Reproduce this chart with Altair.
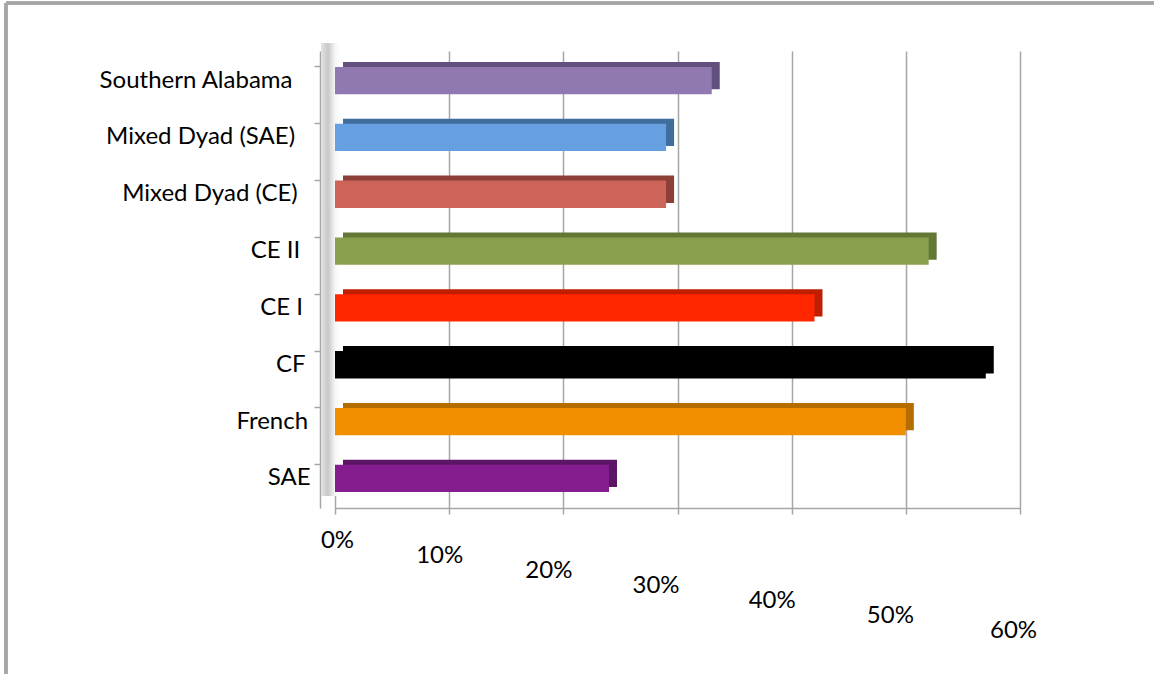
import altair as alt
import pandas as pd

# Share of responses per speaker group
groups = [
    "Southern Alabama",
    "Mixed Dyad (SAE)",
    "Mixed Dyad (CE)",
    "CE II",
    "CE I",
    "CF",
    "French",
    "SAE",
]
shares = [0.33, 0.29, 0.29, 0.52, 0.42, 0.57, 0.50, 0.24]
face_colors = ["#8F79B0", "#66A0E0", "#CC645A", "#8AA04E", "#FF2600", "#000000", "#F09000", "#841E8E"]
side_colors = ["#62507F", "#3F6E9C", "#8C3F37", "#627834", "#C01E00", "#000000", "#B56C00", "#5C1465"]
tick_values = [0, 0.1, 0.2, 0.3, 0.4, 0.5, 0.6]

df = pd.DataFrame({"group": groups, "share": shares, "face": face_colors, "side": side_colors})

W, H = 685, 457
FONT = "Lato"
FS = 24

# category labels drift right toward the bottom, following the tilted wall
y_pads = [{"test": f"datum.value === '{g}'", "value": 22 - 2.6 * i} for i, g in enumerate(groups)]

y_enc = alt.Y(
    "group:N",
    sort=groups,
    title=None,
    scale=alt.Scale(paddingInner=0.52, paddingOuter=0.28),
    axis=alt.Axis(
        bandPosition=0,
        domainColor="#A6A6A6",
        domainWidth=1.5,
        tickColor="#A6A6A6",
        tickWidth=1.5,
        tickSize=6,
        offset=15,
        labelPadding={"condition": y_pads, "value": 8},
        labelLimit=320,
        labelFont=FONT,
        labelFontSize=FS,
        labelColor="#000000",
        grid=False,
    ),
)

# x-axis labels step down and back to the left like the receding floor
x_pads = [{"test": f"datum.value < {v + 0.05:.2f}", "value": 14 + 15 * i} for i, v in enumerate(tick_values[:-1])]
x_shift = [2, -10, -15, -22, -20, -16]
x_offs = [{"test": f"datum.value < {v + 0.05:.2f}", "value": s} for v, s in zip(tick_values[:-1], x_shift)]

x_enc = alt.X(
    "share:Q",
    title=None,
    scale=alt.Scale(domain=[0, 0.6], nice=False),
    axis=alt.Axis(
        values=tick_values,
        format="%",
        domainColor="#A6A6A6",
        domainWidth=1.5,
        tickColor="#A6A6A6",
        tickWidth=1.5,
        tickSize=6,
        gridColor="#A6A6A6",
        gridWidth=1.5,
        labelFlush=False,
        labelOverlap=False,
        labelFont=FONT,
        labelFontSize=FS,
        labelColor="#000000",
        labelPadding={"condition": x_pads, "value": 104},
        labelOffset={"condition": x_offs, "value": -7},
    ),
)

base = alt.Chart(df)

# darker top and end faces, drawn behind the front face
sides = base.mark_bar(xOffset=8, yOffset=-5).encode(
    x=x_enc, y=y_enc, color=alt.Color("side:N", scale=None)
)
faces = base.mark_bar().encode(
    x="share:Q", y=alt.Y("group:N", sort=groups), color=alt.Color("face:N", scale=None)
)

# shaded side wall at the left edge of the plot
wall = base.mark_rect(
    color=alt.Gradient(
        gradient="linear",
        x1=0, x2=1, y1=0, y2=0,
        stops=[
            alt.GradientStop(offset=0, color="#E4E4E4"),
            alt.GradientStop(offset=0.35, color="#C8C8C8"),
            alt.GradientStop(offset=0.7, color="#F6F6F6"),
            alt.GradientStop(offset=1, color="#FFFFFF"),
        ],
    )
).encode(x=alt.value(-14), x2=alt.value(6), y=alt.value(-8), y2=alt.value(H - 12))

# chart area border (top and left edges)
frame_top = base.mark_rule(color="#A5A5A5", strokeWidth=2.5).encode(
    x=alt.value(-329), x2=alt.value(830), y=alt.value(-48)
)
frame_left = base.mark_rule(color="#A5A5A5", strokeWidth=2.5).encode(
    x=alt.value(-329), y=alt.value(-48), y2=alt.value(640)
)

chart = (
    alt.layer(wall, sides, faces, frame_top, frame_left)
    .properties(
        width=W,
        height=H,
        autosize=alt.AutoSizeParams(type="none"),
        padding={"left": 335, "top": 51, "right": 1154 - 335 - W, "bottom": 674 - 51 - H},
        background="#FFFFFF",
    )
    .configure_view(stroke=None)
)

chart.save("out.html", embed_options={"renderer": "svg", "actions": False})
